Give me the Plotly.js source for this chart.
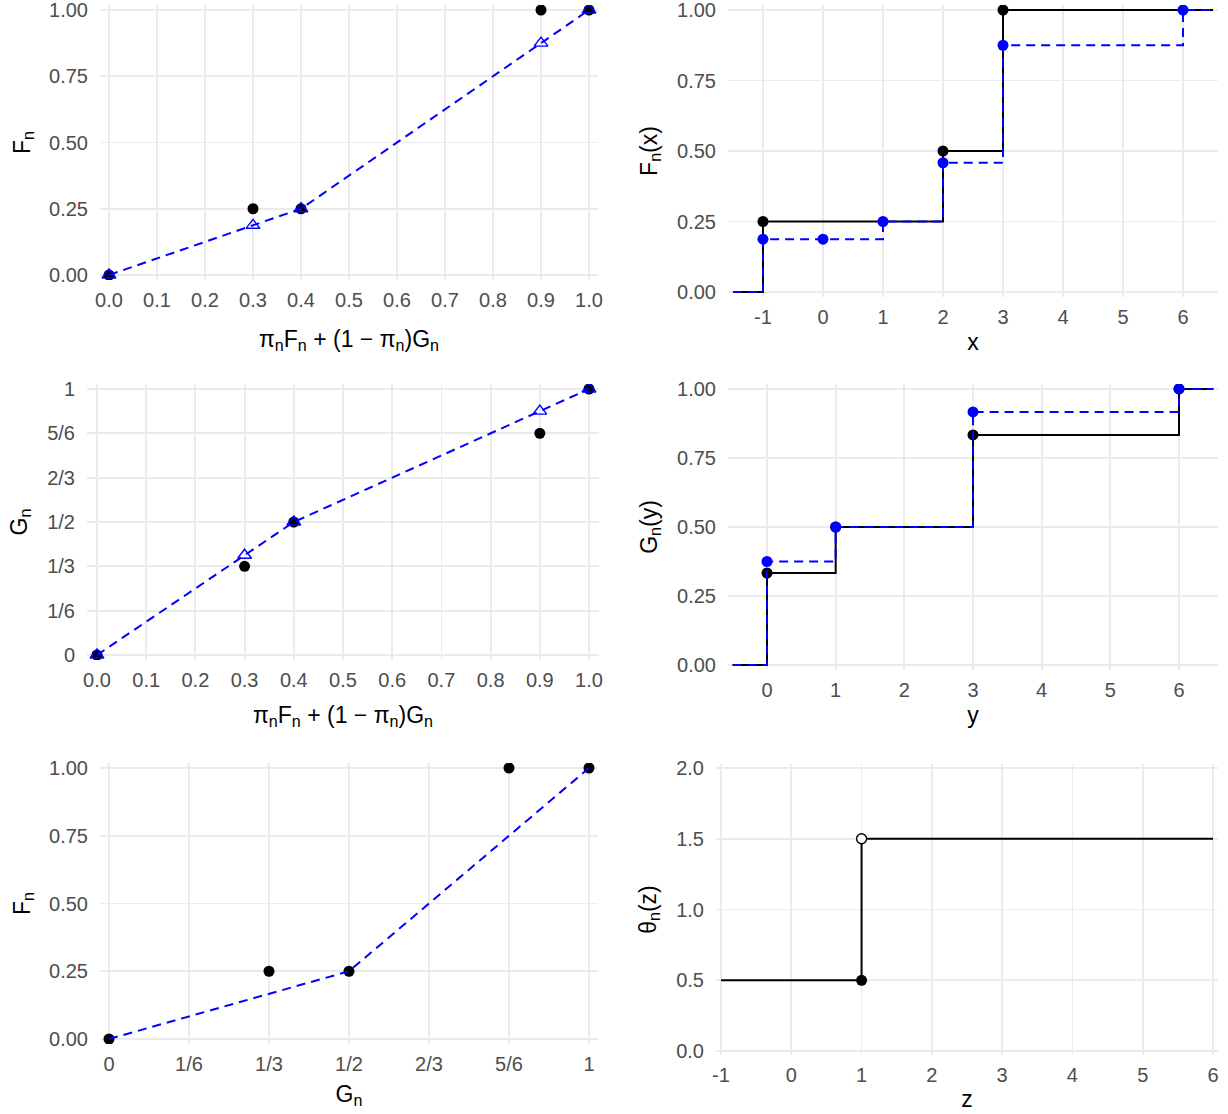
<!DOCTYPE html>
<html>
<head>
<meta charset="utf-8">
<script src="https://cdn.plot.ly/plotly-3.0.1.min.js"></script>
<style>html,body{margin:0;padding:0;background:#fff;}#plot{width:1228px;height:1114px;}</style>
</head>
<body>
<div id="plot"></div>
<script>
// ---------- data ----------
// Panels 1 & 3: values at the pooled mixture  pi_n F_n + (1 - pi_n) G_n
const mixX          = [0, 0.3, 0.4, 0.9, 1];
const FnAtMix       = [0, 0.25, 0.25, 1, 1];
const FnHatAtMix    = [0, 0.1875, 0.25, 0.875, 1];
const GnAtMix       = [0, 1/3, 1/2, 5/6, 1];
const GnHatAtMix    = [0, 0.375, 0.5, 11/12, 1];

// Panel 2: empirical F_n(x) (black) and constrained estimate (blue)
const fnJumpX   = [-1, 2, 3];
const fnJumpY   = [0.25, 0.5, 1];
const fnHatX    = [-1, 0, 1, 2, 3, 6];
const fnHatY    = [0.1875, 0.1875, 0.25, 0.4583, 0.875, 1];
const xLimits   = [-1.5, 6.5];

// Panel 4: empirical G_n(y) (black) and constrained estimate (blue)
const gnJumpX   = [0, 1, 3, 6];
const gnJumpY   = [1/3, 1/2, 5/6, 1];
const gnHatX    = [0, 1, 3, 6];
const gnHatY    = [0.375, 0.5, 11/12, 1];
const yLimits   = [-0.5, 6.5];

// Panel 5: F_n against G_n
const gAtPoints   = [0, 1/3, 1/2, 5/6, 1];
const FnAtG       = [0, 0.25, 0.25, 1, 1];
const FnHatAtG    = [0, 1/6, 0.25, 0.75, 1];

// Panel 6: theta_n(z)
const thetaX      = [-1, 1, 6];
const thetaY      = [0.5, 1.5, 1.5];
const thetaClosedX = [1], thetaClosedY = [0.5];
const thetaOpenX   = [1], thetaOpenY   = [1.5];

// tick labels
const fracVals  = [0, 1/6, 1/3, 1/2, 2/3, 5/6, 1];
const fracText  = ['0', '1/6', '1/3', '1/2', '2/3', '5/6', '1'];
const tenthVals = [0,0.1,0.2,0.3,0.4,0.5,0.6,0.7,0.8,0.9,1];
const tenthText = ['0.0','0.1','0.2','0.3','0.4','0.5','0.6','0.7','0.8','0.9','1.0'];
const quartVals = [0, 0.25, 0.5, 0.75, 1];
const quartText = ['0.00','0.25','0.50','0.75','1.00'];
const intVals7  = [-1,0,1,2,3,4,5,6];
const intText7  = ['-1','0','1','2','3','4','5','6'];
const intVals6  = [0,1,2,3,4,5,6];
const intText6  = ['0','1','2','3','4','5','6'];
const halfVals  = [0,0.5,1,1.5,2];
const halfText  = ['0.0','0.5','1.0','1.5','2.0'];

// ---------- helpers ----------
const W = 1228, H = 1114;
function stepLine(jx, jy, lim) {
  return { x: [lim[0]].concat(jx, [lim[1]]), y: [0].concat(jy, [jy[jy.length-1]]) };
}
const BLUE = '#0000FF';
const dash = '9px,6px';
const FAM = 'Liberation Sans, Arial, sans-serif';
const tickFont = {family: FAM, size: 20, color: '#4D4D4D'};
const titleFont = {family: FAM, size: 23, color: '#000000'};

function axis(px0, px1, range, vals, text, title, isX, standoff) {
  const dom = isX ? [px0 / W, px1 / W] : [1 - px1 / H, 1 - px0 / H];
  return {
    domain: dom, range: range, autorange: false,
    tickmode: 'array', tickvals: vals, ticktext: text,
    showgrid: true, gridcolor: '#EBEBEB', gridwidth: 1.8,
    zeroline: false, showline: false, ticks: '',
    tickfont: tickFont, ticklabelstandoff: isX ? 6 : 11,
    ticklabeloverflow: 'allow',
    title: {text: title, font: titleFont, standoff: standoff},
    automargin: false, fixedrange: true
  };
}

const traces = [];
function add(t, xa, ya) { t.xaxis = xa; t.yaxis = ya; t.showlegend = false; t.hoverinfo = 'skip'; traces.push(t); }

// Panel 1
add({x: mixX, y: FnAtMix, mode: 'markers', marker: {color: '#000', size: 11}}, 'x', 'y');
add({x: mixX, y: FnHatAtMix, mode: 'lines+markers', line: {color: BLUE, width: 2, dash: dash},
     marker: {symbol: 'triangle-up-open', color: BLUE, size: 12, line: {width: 1.4}}}, 'x', 'y');

// Panel 2
const s1 = stepLine(fnJumpX, fnJumpY, xLimits);
const s1h = stepLine(fnHatX, fnHatY, xLimits);
add({x: s1.x, y: s1.y, mode: 'lines', line: {color: '#000', width: 2, shape: 'hv'}}, 'x2', 'y2');
add({x: fnJumpX, y: fnJumpY, mode: 'markers', marker: {color: '#000', size: 11}}, 'x2', 'y2');
add({x: s1h.x, y: s1h.y, mode: 'lines', line: {color: BLUE, width: 2, shape: 'hv', dash: dash}}, 'x2', 'y2');
add({x: fnHatX, y: fnHatY, mode: 'markers', marker: {color: BLUE, size: 11}}, 'x2', 'y2');

// Panel 3
add({x: mixX, y: GnAtMix, mode: 'markers', marker: {color: '#000', size: 11}}, 'x3', 'y3');
add({x: mixX, y: GnHatAtMix, mode: 'lines+markers', line: {color: BLUE, width: 2, dash: dash},
     marker: {symbol: 'triangle-up-open', color: BLUE, size: 12, line: {width: 1.4}}}, 'x3', 'y3');

// Panel 4
const s2 = stepLine(gnJumpX, gnJumpY, yLimits);
const s2h = stepLine(gnHatX, gnHatY, yLimits);
add({x: s2.x, y: s2.y, mode: 'lines', line: {color: '#000', width: 2, shape: 'hv'}}, 'x4', 'y4');
add({x: gnJumpX, y: gnJumpY, mode: 'markers', marker: {color: '#000', size: 11}}, 'x4', 'y4');
add({x: s2h.x, y: s2h.y, mode: 'lines', line: {color: BLUE, width: 2, shape: 'hv', dash: dash}}, 'x4', 'y4');
add({x: gnHatX, y: gnHatY, mode: 'markers', marker: {color: BLUE, size: 11}}, 'x4', 'y4');

// Panel 5
add({x: gAtPoints, y: FnAtG, mode: 'markers', marker: {color: '#000', size: 11}}, 'x5', 'y5');
add({x: gAtPoints, y: FnHatAtG, mode: 'lines', line: {color: BLUE, width: 2, dash: dash}}, 'x5', 'y5');

// Panel 6
add({x: thetaX, y: thetaY, mode: 'lines', line: {color: '#000', width: 2, shape: 'hv'}}, 'x6', 'y6');
add({x: thetaClosedX, y: thetaClosedY, mode: 'markers', marker: {color: '#000', size: 11}}, 'x6', 'y6');
add({x: thetaOpenX, y: thetaOpenY, mode: 'markers', marker: {symbol: 'circle', color: '#fff', size: 10, line: {color: '#000', width: 1.4}}}, 'x6', 'y6');

const mixTitle = '\u03C0<sub>n</sub>F<sub>n</sub> + (1 \u2212 \u03C0<sub>n</sub>)G<sub>n</sub>';

const layout = {
  width: W, height: H, margin: {l: 0, r: 0, t: 0, b: 0},
  paper_bgcolor: '#fff', plot_bgcolor: '#fff', showlegend: false,
  font: tickFont,
  xaxis:  axis(100, 598, [-0.01875, 1.01875], tenthVals, tenthText, mixTitle, true, 20),
  yaxis:  axis(5, 280, [-0.0189, 1.0189], quartVals, quartText, 'F<sub>n</sub>', false, 12),
  xaxis2: axis(728, 1218, [-1.583, 6.583], intVals7, intText7, 'x', true, 6),
  yaxis2: axis(5, 297, [-0.0177, 1.0177], quartVals, quartText, 'F<sub>n</sub>(x)', false, 13),
  xaxis3: axis(87, 599, [-0.0203, 1.0203], tenthVals, tenthText, mixTitle, true, 16),
  yaxis3: axis(384, 660, [-0.0188, 1.0188], fracVals, fracText, 'G<sub>n</sub>', false, 13),
  xaxis4: axis(728, 1218, [-0.568, 6.568], intVals6, intText6, 'y', true, 6),
  yaxis4: axis(384, 670, [-0.018, 1.018], quartVals, quartText, 'G<sub>n</sub>(y)', false, 13),
  xaxis5: axis(100, 598, [-0.01875, 1.01875], fracVals, fracText, 'G<sub>n</sub>', true, 11),
  yaxis5: axis(763, 1044, [-0.0185, 1.0185], quartVals, quartText, 'F<sub>n</sub>', false, 12),
  xaxis6: axis(716, 1218, [-1.071, 6.071], intVals7, intText7, 'z', true, 5),
  yaxis6: axis(764, 1055, [-0.028, 2.028], halfVals, halfText, '\u03B8<sub>n</sub>(z)', false, 13)
};
['', '2', '3', '4', '5', '6'].forEach(function (k) {
  layout['xaxis' + k].anchor = 'y' + k;
  layout['yaxis' + k].anchor = 'x' + k;
});

Plotly.newPlot('plot', traces, layout, {staticPlot: true, displayModeBar: false});
</script>
</body>
</html>
